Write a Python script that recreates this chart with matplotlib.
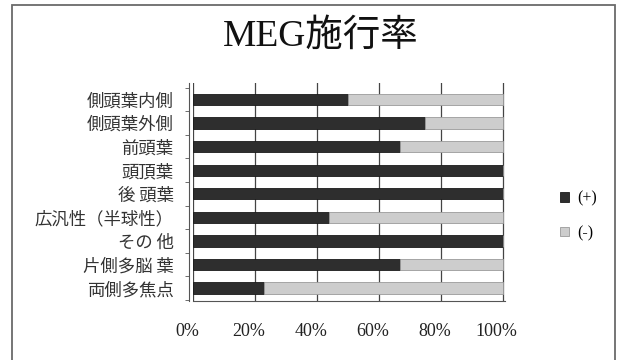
import matplotlib
matplotlib.use("Agg")
import matplotlib.pyplot as plt
from matplotlib.patches import Rectangle
from matplotlib.transforms import ScaledTranslation
import numpy as np

plt.rcParams["font.family"] = ["Noto Sans CJK JP", "DejaVu Sans"]

categories = ["側頭葉内側", "側頭葉外側", "前頭葉", "頭頂葉", "後 頭葉",
              "広汎性（半球性）", "その 他", "片側多脳 葉", "両側多焦点"]
positive = [50, 75, 67, 100, 100, 44, 100, 67, 23]
negative = [100 - v for v in positive]
series_labels = ["(+)", "(-)"]
xtick_values = [0, 20, 40, 60, 80, 100]
xtick_labels = ["0%", "20%", "40%", "60%", "80%", "100%"]
title_text = "MEG施行率"

serif = ["Liberation Serif", "Noto Sans CJK JP", "DejaVu Serif"]

W, H = 618, 360
fig = plt.figure(figsize=(W / 100, H / 100), dpi=100)
fig.patch.set_facecolor("white")

# outer chart frame
fig.patches.append(Rectangle((12 / W, -0.01), (615 - 12) / W, 1 - 5 / H + 0.01,
                             transform=fig.transFigure, fill=False,
                             edgecolor="#6a6a6a", linewidth=1.3))

ax = fig.add_axes([193 / W, 1 - 301 / H, (505 - 193) / W, (301 - 83) / H])
y = np.arange(len(categories))
dark = "#2e2e2e"
light = "#cdcdcd"
ax.barh(y, positive, height=0.48, color=dark, edgecolor="#1a1a1a", linewidth=0.6,
        label=series_labels[0], zorder=3)
ax.barh(y, negative, left=positive, height=0.48, color=light, edgecolor="#9a9a9a",
        linewidth=0.6, label=series_labels[1], zorder=3)

ax.set_xlim(0, 100.8)
ax.set_ylim(len(categories) - 1 + 0.55, -0.7)
for xv in xtick_values:
    ax.axvline(xv, color="#444444", linewidth=0.9, zorder=1)

ax.set_xticks(xtick_values)
ax.set_xticklabels(xtick_labels, family=serif, fontsize=13, color="#222222")
ax.tick_params(axis="x", length=0, pad=16)
shift = ScaledTranslation(-6 / 100, 0, fig.dpi_scale_trans)
for lbl in ax.get_xticklabels():
    lbl.set_transform(lbl.get_transform() + shift)

ax.set_yticks(y)
ax.set_yticklabels(categories)
ax.tick_params(axis="y", which="major", length=0, pad=11, labelsize=12.5,
               labelcolor="#333333")
ax.set_yticks(np.arange(-0.5, len(categories), 1), minor=True)
ax.tick_params(axis="y", which="minor", length=3, color="#555555", direction="out")

for side in ["top", "right"]:
    ax.spines[side].set_visible(False)
ax.spines["left"].set_color("#555555")
ax.spines["bottom"].set_color("#555555")
ax.spines["left"].set_position(("outward", 3))

fig.text(321 / W, 1 - 36 / H, title_text, family=serif, fontsize=27,
         ha="center", va="center", color="#111111")

leg = fig.legend(loc="center left", bbox_to_anchor=(546 / W, 1 - 216 / H),
                 frameon=False, handlelength=0.55, handleheight=0.55,
                 handletextpad=0.5, labelspacing=1.15,
                 prop={"family": serif, "size": 11.5})

fig.savefig("out.png", dpi=100, facecolor="white")
